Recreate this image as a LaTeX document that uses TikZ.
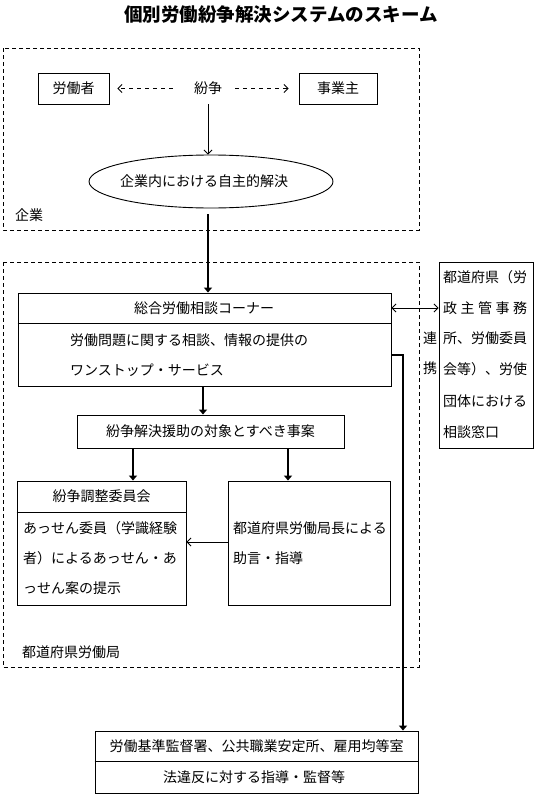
\documentclass[tikz,border=0pt]{standalone}
\usepackage{fontspec}
\setmainfont{Noto Sans CJK JP}
\usetikzlibrary{arrows.meta,shapes.geometric}
\newcommand\myfont{\fontsize{14}{16}\selectfont}
\newcommand\mytitlefont{\fontsize{18.5}{20}\selectfont\bfseries}
\begin{document}
\begin{tikzpicture}[x=1pt,y=-1pt,
  every node/.style={font=\myfont, inner sep=0pt},
  box/.style={draw, line width=0.9pt},
  dashbox/.style={draw, line width=0.9pt, dash pattern=on 4pt off 3pt},
  thinline/.style={line width=0.9pt},
  thinarrow/.style={line width=0.9pt, -{Straight Barb[length=4pt,width=8pt]}},
  biarrow/.style={line width=0.9pt, {Straight Barb[length=4pt,width=8pt]}-{Straight Barb[length=4pt,width=8pt]}},
  dasharrow/.style={line width=0.9pt, dash pattern=on 4pt off 4pt, -{Straight Barb[length=4pt,width=8pt]}},
  thickarrow/.style={line width=2.6pt, line join=miter, -{Triangle[length=5pt,width=8pt]}},
  ltxt/.style={anchor=west},
]
\useasboundingbox (0,0) rectangle (535,795);
\fill[white] (0,0) rectangle (535,795);

% title
\node[font=\mytitlefont] (title) at (281,14) {個別労働紛争解決システムのスキーム};

% enterprise
\draw[dashbox] (3,48) rectangle (419,230);
\node[box, minimum width=71pt, minimum height=31pt] (worker) at (73.5,88.5) {労働者};
\node[box, minimum width=78pt, minimum height=31pt] (employer) at (338,88.5) {事業主};
\node[minimum width=28pt, minimum height=31pt] (dispute) at (208,88.5) {紛争};
\draw[dasharrow, shorten <=21pt, shorten >=8pt] (dispute.west) -- (worker.east);
\draw[dasharrow, shorten <=13pt, shorten >=10pt] (dispute.east) -- (employer.west);
\node[ellipse, draw, line width=0.9pt, minimum width=244pt, minimum height=53pt] (ell) at (211,181.5) {};
\node (elltxt) at (204,181) {企業内における自主的解決};
\draw[thinarrow] (dispute.south) -- (dispute.south |- ell.north);
\node[ltxt] (corp) at (15,215) {企業};

% bureau
\draw[dashbox] (3,262) rectangle (419,667);
\node[ltxt] (bureau) at (22,652) {都道府県労働局};

\node[box, minimum width=373pt, minimum height=93pt] (consult) at (204.5,339.5) {};
\coordinate (d1) at (0,323);
\draw[thinline] (consult.west |- d1) -- (consult.east |- d1);
\node (consulttitle) at (204,308) {総合労働相談コーナー};
\node[ltxt] (cl1) at (70,340) {労働問題に関する相談、情報の提供の};
\node[ltxt] (cl2) at (70,370) {ワンストップ・サービス};

\coordinate (c1) at (208,214);
\draw[thickarrow] (c1) -- (c1 |- consult.north);

% prefectural box
\node[box, minimum width=94pt, minimum height=186pt] (pref) at (486,355) {};
\node[ltxt] (p1) at (443,277) {\makebox[84pt][s]{都道府県（労}};
\node[ltxt] (p2) at (443,308) {\makebox[84pt][s]{政\hfill 主\hfill 管\hfill 事\hfill 務}};
\node[ltxt] (p3) at (443,338) {\makebox[84pt][s]{所、労働委員}};
\node[ltxt] (p4) at (443,369) {\makebox[84pt][s]{会等）、労使}};
\node[ltxt] (p5) at (443,401) {\makebox[84pt][s]{団体における}};
\node[ltxt] (p6) at (443,432) {相談窓口};
\node (ren) at (430,338) {連};
\node (kei) at (430,368) {携};
\coordinate (d2) at (0,308);
\draw[biarrow] (consult.east |- d2) -- (pref.west |- d2);

% target
\node[box, minimum width=267pt, minimum height=33pt] (target) at (210.5,431.5) {紛争解決援助の対象とすべき事案};
\coordinate (d5) at (203,0);
\draw[thickarrow] (consult.south -| d5) -- (target.north -| d5);

% committee
\node[box, minimum width=169pt, minimum height=124pt] (committee) at (101.5,543) {};
\coordinate (d8) at (0,512);
\draw[thinline] (committee.west |- d8) -- (committee.east |- d8);
\node (ctitle) at (101.5,496) {紛争調整委員会};
\node[ltxt] (cm1) at (23,528) {あっせん委員（学識経験};
\node[ltxt] (cm2) at (23,558) {者）によるあっせん・あ};
\node[ltxt] (cm3) at (23,588) {っせん案の提示};

% director
\node[box, minimum width=162pt, minimum height=124pt] (director) at (309,543) {};
\node[ltxt] (dr1) at (233,528) {都道府県労働局長による};
\node[ltxt] (dr2) at (233,558) {助言・指導};

\coordinate (d6) at (133,0);
\coordinate (d9) at (288,0);
\draw[thickarrow] (target.south -| d6) -- (committee.north -| d6);
\draw[thickarrow] (target.south -| d9) -- (director.north -| d9);
\coordinate (d7) at (0,542);
\draw[thinarrow] (director.west |- d7) -- (committee.east |- d7);

% law enforcement
\node[box, minimum width=323pt, minimum height=62pt] (law) at (256.5,762) {};
\coordinate (d10) at (0,761);
\draw[thinline] (law.west |- d10) -- (law.east |- d10);
\node (lt1) at (256.5,746) {労働基準監督署、公共職業安定所、雇用均等室};
\node (lt2) at (254,777) {法違反に対する指導・監督等};

\coordinate (d3) at (403,355);
\draw[thickarrow] (consult.east |- d3) -- (d3) -- (d3 |- law.north);
\end{tikzpicture}
\end{document}
